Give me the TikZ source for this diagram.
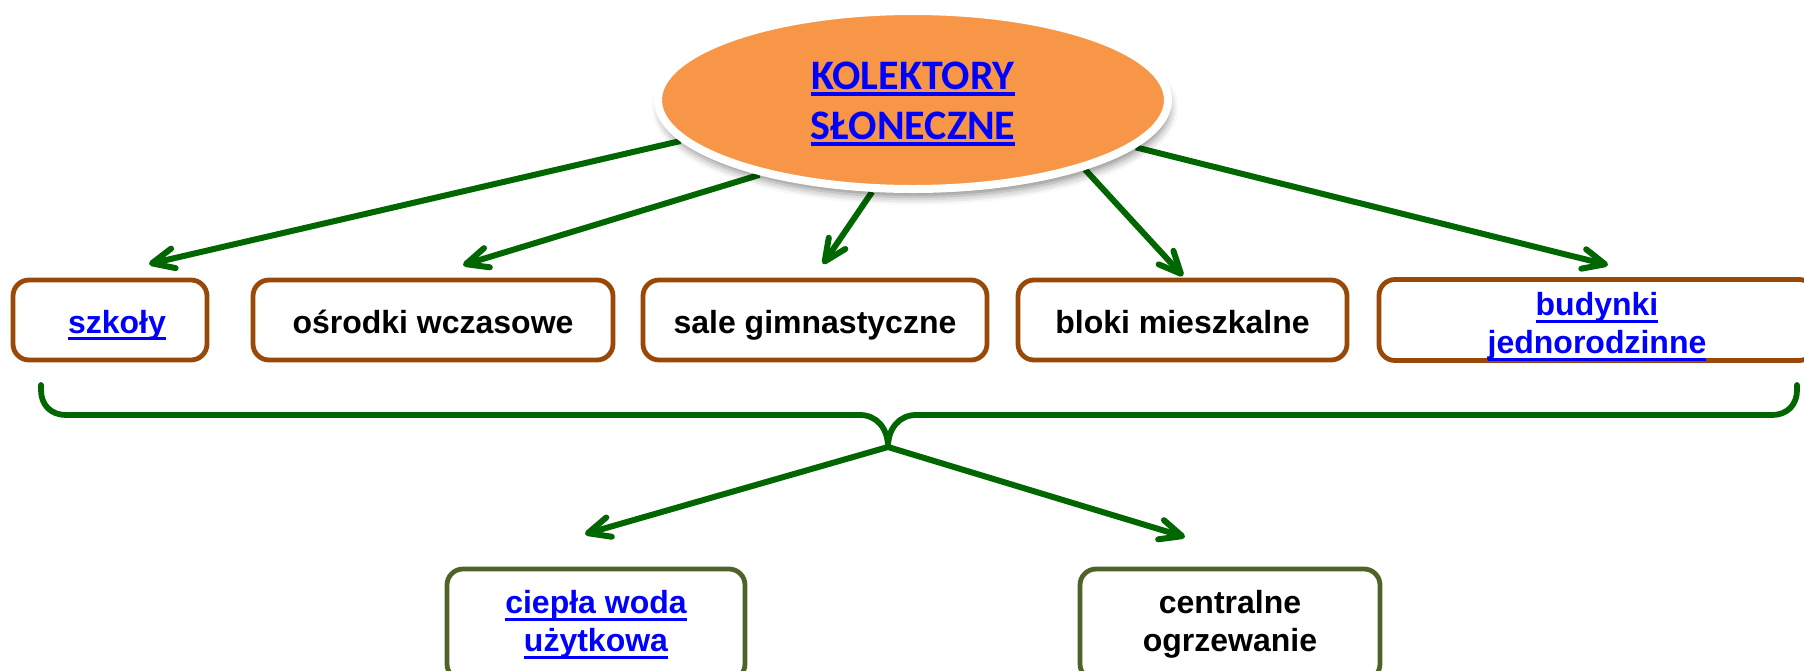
\documentclass[tikz,border=0pt]{standalone}
\usepackage{fontspec}
\setmainfont{Liberation Sans}
\newfontfamily\titlefont{Carlito}
\usetikzlibrary{shapes.geometric,arrows.meta,shadows.blur}
\pgfdeclarelayer{background}
\pgfsetlayers{background,main}

\definecolor{arrowgreen}{RGB}{0,102,0}
\definecolor{boxbrown}{RGB}{152,72,7}
\definecolor{boxolive}{RGB}{79,98,40}
\definecolor{sunorange}{RGB}{247,150,70}
\definecolor{linkblue}{RGB}{0,0,255}

% underlined blue hyperlink-style text
\newlength\lnkdrop \setlength\lnkdrop{3.7pt}
\newlength\lnkthick \setlength\lnkthick{1.5pt}
\newcommand\lnk[1]{{\color{linkblue}\setbox0=\hbox{#1}\rlap{\rule[-\lnkdrop]{\wd0}{\lnkthick}}\box0}}

\tikzset{
  sun/.style={ellipse, draw=white, line width=4pt, fill=sunorange,
    minimum width=255pt, minimum height=89pt, inner sep=0pt, align=center,
    font=\titlefont\bfseries\fontsize{21pt}{25pt}\selectfont,
    blur shadow={shadow xshift=1pt, shadow yshift=-4pt, shadow blur radius=4pt, shadow opacity=45}},
  box/.style={draw=boxbrown, line width=2.4pt, rounded corners=8pt, fill=white,
    align=center, inner sep=0pt, minimum height=40pt,
    font=\bfseries\fontsize{16pt}{19pt}\selectfont},
  oneline/.style={text height=13pt, text depth=0pt},
  lowbox/.style={box, draw=boxolive, minimum height=55.5pt},
  conn/.style={draw=arrowgreen, line width=3pt,
    -{Straight Barb[length=11pt,width=10pt,round]}},
  brace/.style={draw=arrowgreen, line width=2.9pt, line cap=round, line join=round},
}

\begin{document}
\begin{tikzpicture}[x=0.5pt,y=-0.5pt]
  \path[use as bounding box] (0,0) rectangle (1804,670);
  \clip (0,0) rectangle (1804,670);

  % central ellipse
  \node[sun] (sun) at (913,100)
    {\setlength\lnkthick{2pt}\rule{0pt}{17.7pt}\lnk{KOLEKTORY}\\
     \setlength\lnkthick{2pt}\lnk{SŁONECZNE}};

  % application boxes
  \node[box, oneline, minimum width=97pt]    (szkoly)  at (110,320)   {\hspace*{7pt}\lnk{szkoły}};
  \node[box, oneline, minimum width=180pt]   (osrodki) at (433,320)   {ośrodki wczasowe};
  \node[box, oneline, minimum width=172pt]   (sale)    at (815,320)   {sale gimnastyczne};
  \node[box, oneline, minimum width=164.5pt] (bloki)   at (1182.5,320) {bloki mieszkalne};
  \node[box, minimum width=218pt]            (budynki) at (1597,320)
    {\rule{0pt}{17.8pt}\lnk{budynki}\\\lnk{jednorodzinne}};

  % uses
  \node[lowbox, minimum width=149pt] (ciepla)  at (596,624.5)  {\lnk{ciepła woda}\\\lnk{użytkowa}};
  \node[lowbox, minimum width=150pt] (central) at (1230,624.5) {centralne\\ogrzewanie};

  % arrow end points above the boxes
  \coordinate (t1) at (149,264);
  \coordinate (t2) at (463,265);
  \coordinate (t3) at (823,264);
  \coordinate (t4) at (1183,276);
  \coordinate (t5) at (1608,265);
  \coordinate (cusp) at (888,447);
  \coordinate (t6) at (585,534);
  \coordinate (t7) at (1185,537);

  \begin{pgfonlayer}{background}
    \draw[conn] (sun.190) -- (t1);
    \draw[conn] (sun.206) -- (t2);
    \draw[conn] (sun.246) -- (t3);
    \draw[conn] (sun.338) -- (t4);
    \draw[conn] (sun.348) -- (t5);
  \end{pgfonlayer}

  % brace gathering all boxes
  \draw[brace] (41,385) -- (41,390) .. controls (41,405) and (51,415) .. (66,415)
    -- (860,415) .. controls (876.6,415) and (888,428.4) .. (cusp)
    .. controls (888,428.4) and (899.4,415) .. (916,415)
    -- (1772,415) .. controls (1787,415) and (1797,405) .. (1797,390) -- (1797,385);

  \draw[conn] (cusp) -- (t6);
  \draw[conn] (cusp) -- (t7);
\end{tikzpicture}
\end{document}
